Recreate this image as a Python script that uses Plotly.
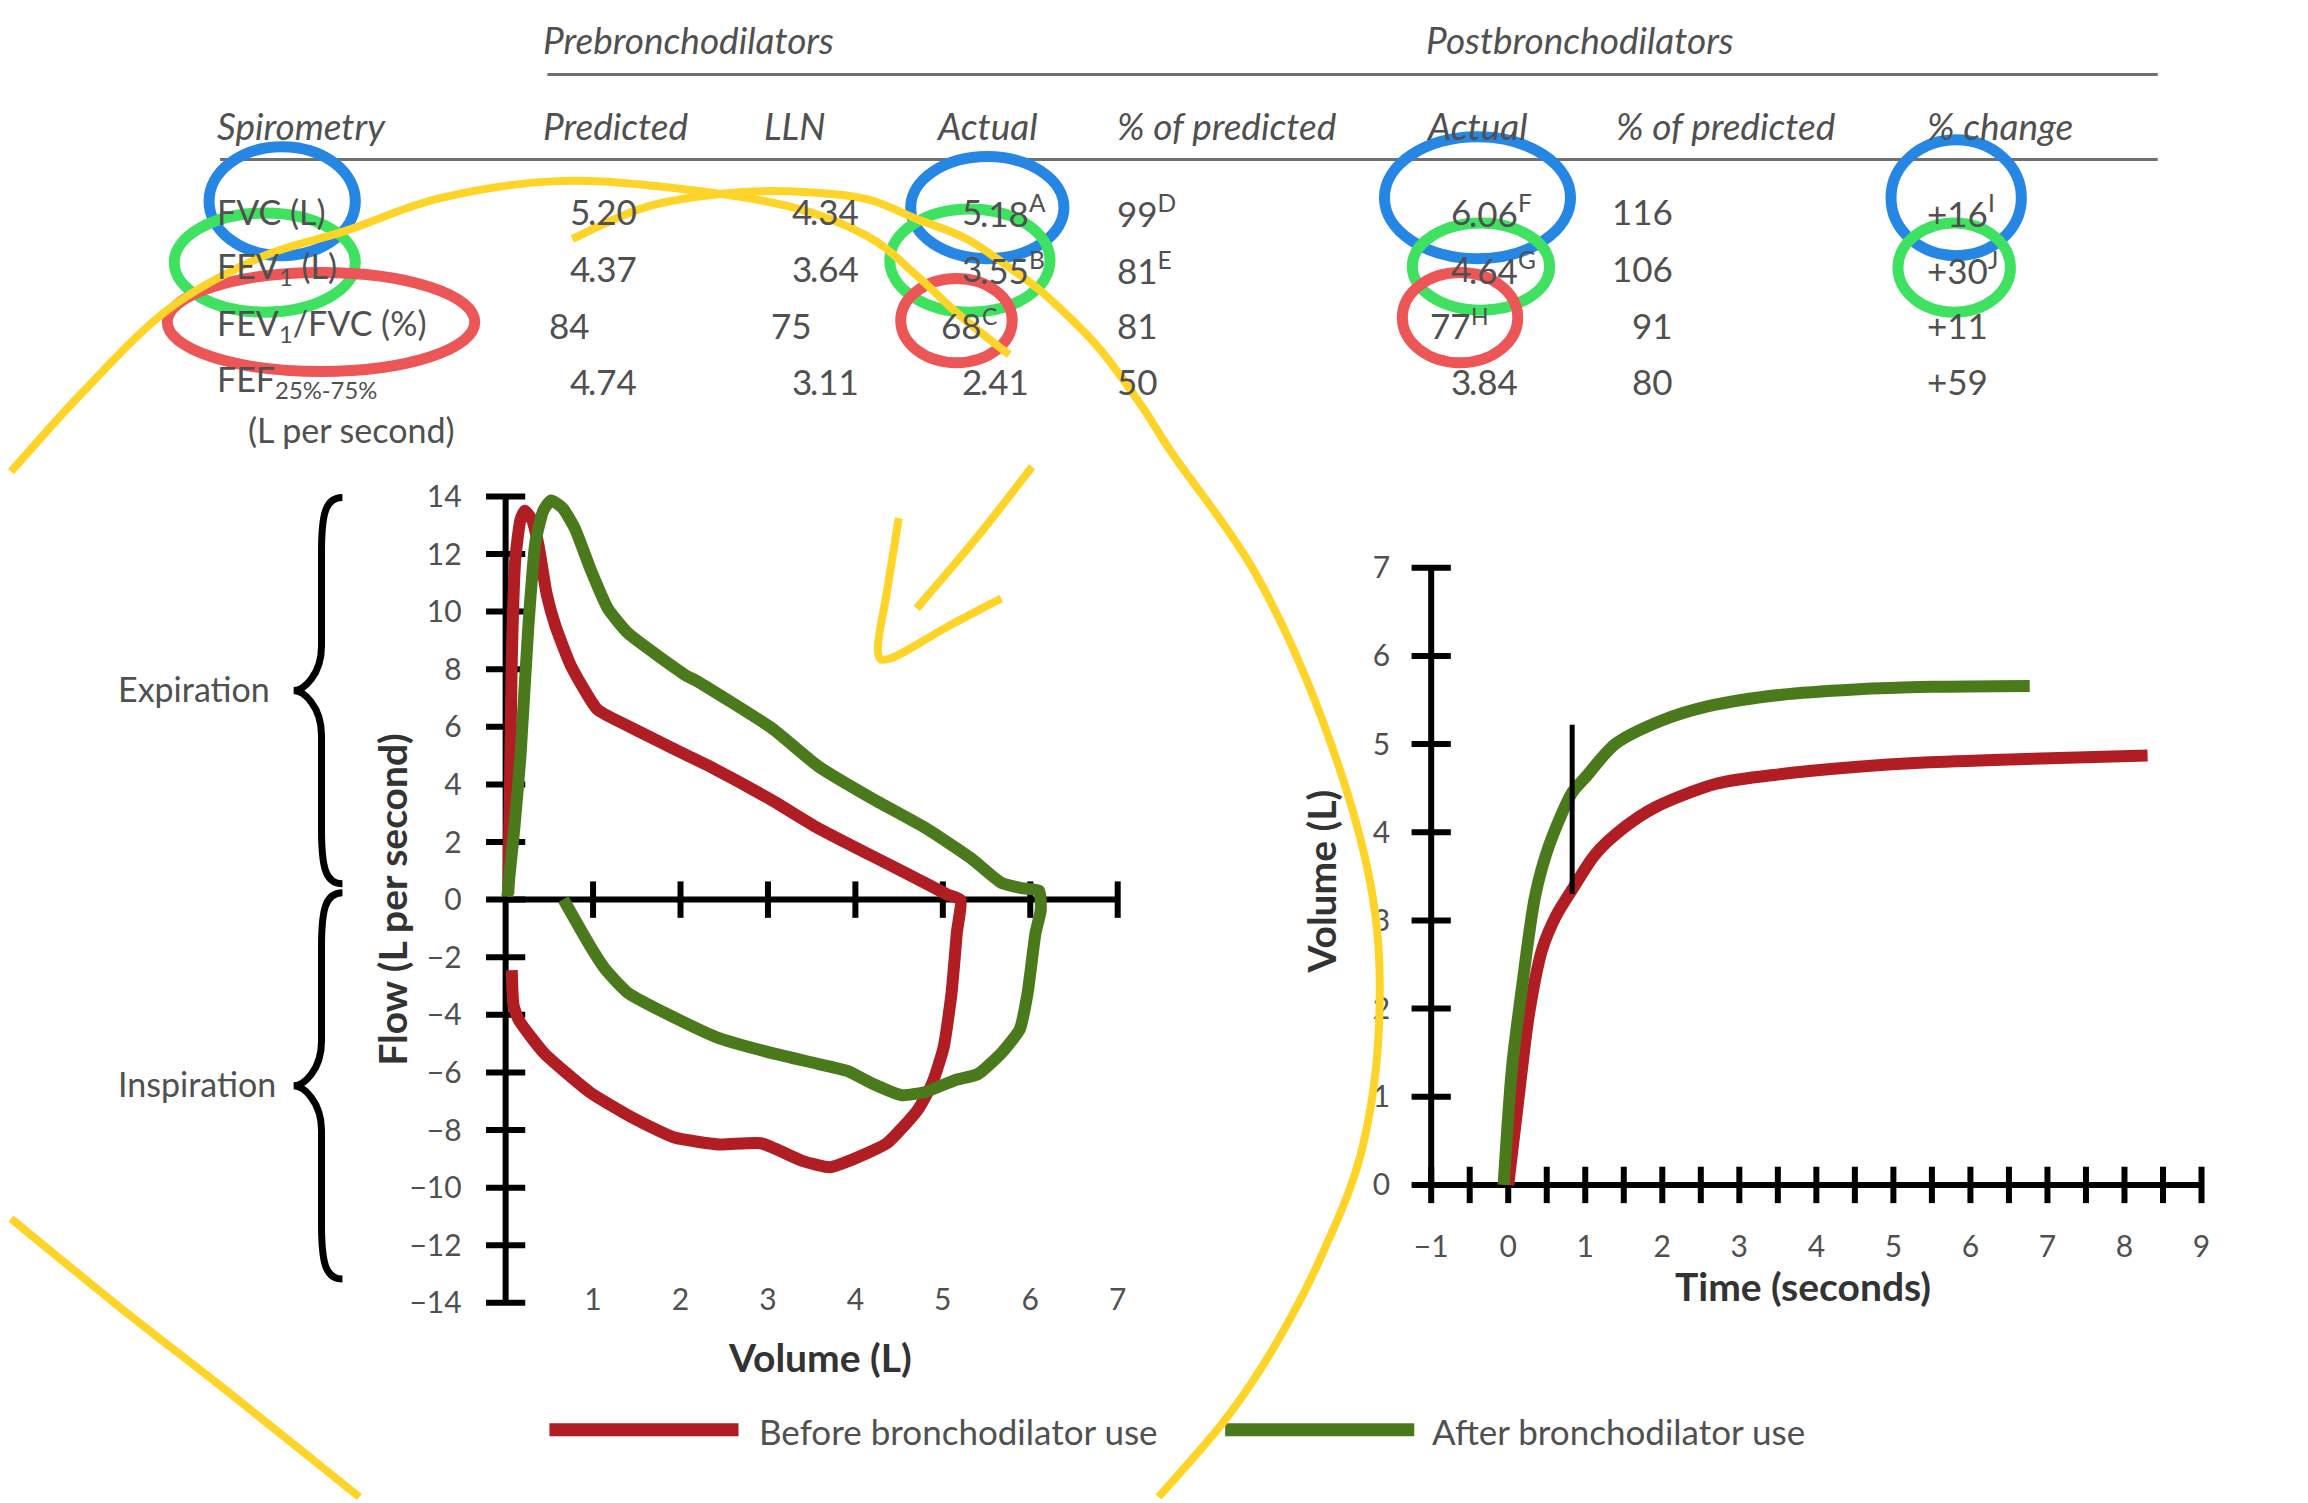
import plotly.graph_objects as go

W, H = 2308, 1503
FONT = "Lato, 'Open Sans', sans-serif"
TEXT = "#505050"
TITLE = "#333333"
RED = "#B01E24"
GREEN = "#4B7A1C"

# ---------------- data ----------------
table_groups = ["Prebronchodilators", "Postbronchodilators"]
table_headers = ["Spirometry", "Predicted", "LLN", "Actual", "% of predicted",
                 "Actual", "% of predicted", "% change"]
row_labels = ["FVC (L)", "FEV<sub>1</sub> (L)", "FEV<sub>1</sub>/FVC (%)", "FEF<sub>25%-75%</sub>"]
row_label_note = "(L per second)"
predicted = ["5.20", "4.37", "84", "4.74"]
lln = ["4.34", "3.64", "75", "3.11"]
actual_pre = ["5.18", "3.55", "68", "2.41"]
actual_pre_notes = ["A", "B", "C", ""]
pct_pred_pre = ["99", "81", "81", "50"]
pct_pred_pre_notes = ["D", "E", "", ""]
actual_post = ["6.06", "4.64", "77", "3.84"]
actual_post_notes = ["F", "G", "H", ""]
pct_pred_post = ["116", "106", "91", "80"]
pct_change = ["+16", "+30", "+11", "+59"]
pct_change_notes = ["I", "J", "", ""]

series_names = ["Before bronchodilator use", "After bronchodilator use"]
series_colors = [RED, GREEN]

# flow-volume loop (volume L, flow L/s)
fv_vol_before = [0.03, 0.05, 0.07, 0.11, 0.17, 0.22, 0.30, 0.37, 0.47, 0.57, 0.75, 1.05, 1.32,
                 1.70, 2.08, 2.35, 3.04, 3.57, 4.17, 4.70, 5.05, 5.20, 5.16, 5.10, 5.01, 4.88,
                 4.71, 4.36, 3.92, 3.71, 3.40, 2.92, 2.44, 1.92, 1.48, 0.96, 0.44, 0.15, 0.09, 0.07]
fv_flow_before = [0.2, 4.0, 8.3, 11.8, 13.2, 13.5, 13.2, 12.4, 10.6, 9.5, 8.1, 6.6, 6.15,
                  5.57, 5.0, 4.6, 3.46, 2.49, 1.55, 0.73, 0.18, 0.0, -1.16, -3.24, -5.12, -6.37,
                  -7.31, -8.46, -9.08, -9.29, -9.08, -8.46, -8.5, -8.25, -7.62, -6.68, -5.33,
                  -4.18, -3.66, -2.45]
fv_vol_after = [0.02, 0.10, 0.17, 0.26, 0.34, 0.43, 0.52, 0.65, 0.79, 0.98, 1.17, 1.40, 2.08,
                2.18, 3.04, 3.57, 4.18, 4.80, 5.32, 5.67, 5.90, 6.10, 6.12, 6.06, 5.97, 5.88,
                5.67, 5.40, 5.14, 4.80, 4.53, 4.18, 3.92, 3.58, 3.05, 2.44, 1.92, 1.40, 1.14,
                0.96, 0.66]
fv_flow_after = [0.1, 2.5, 5.0, 9.5, 12.4, 13.5, 13.86, 13.6, 12.9, 11.4, 10.1, 9.25, 7.75,
                 7.6, 5.96, 4.64, 3.53, 2.49, 1.44, 0.58, 0.4, 0.31, -0.36, -1.16, -3.24, -4.5,
                 -5.33, -6.06, -6.27, -6.68, -6.79, -6.37, -5.96, -5.71, -5.33, -4.81, -4.08,
                 -3.24, -2.42, -1.58, 0.01]
fv_xticks = [1, 2, 3, 4, 5, 6, 7]
fv_yticks = list(range(-14, 15, 2))

# volume-time curves (seconds, L)
vt_time_before = [0.0, 0.14, 0.27, 0.44, 0.62, 0.83, 1.13, 1.5, 1.9, 2.7, 3.55, 4.5, 5.4, 6.7, 8.3]
vt_vol_before = [0.0, 1.03, 1.94, 2.67, 3.05, 3.35, 3.75, 4.05, 4.28, 4.55, 4.66, 4.74, 4.79, 4.83, 4.87]
vt_time_after = [-0.06, 0.05, 0.18, 0.35, 0.53, 0.83, 1.0, 1.39, 2.0, 2.6, 3.55, 4.5, 5.5, 6.77]
vt_vol_after = [0.0, 1.34, 2.25, 3.28, 3.85, 4.45, 4.62, 5.0, 5.27, 5.43, 5.56, 5.62, 5.65, 5.66]
vt_fev1_time = 0.83
vt_fev1_span = [3.3, 5.22]
vt_xticks = list(range(-1, 10))
vt_minor_xticks = [v / 2 for v in range(-2, 19)]
vt_yticks = list(range(0, 8))

# ---------------- geometry helpers ----------------
def px(x):
    return x / W

def py(y):
    return 1 - y / H

# flow-volume plot placement (pixel anchors)
FV_X0, FV_PPU_X = 497, (1112 - 497) / 7
FV_Y0, FV_PPU_Y = 900, (900 - 493) / 14
fv_xrange = [-0.4, 7.3]
fv_yrange = [-14.4, 14.4]
fv_xdom = [px(FV_X0 + fv_xrange[0] * FV_PPU_X), px(FV_X0 + fv_xrange[1] * FV_PPU_X)]
fv_ydom = [py(FV_Y0 - fv_yrange[0] * FV_PPU_Y), py(FV_Y0 - fv_yrange[1] * FV_PPU_Y)]

# volume-time plot placement
VT_XM1, VT_PPU_X = 1427, 77.4
VT_Y0, VT_PPU_Y = 1188, 89.0
vt_xrange = [-1.08, 9.15]
vt_yrange = [-0.12, 7.15]
vt_xdom = [px(VT_XM1 + (vt_xrange[0] + 1) * VT_PPU_X), px(VT_XM1 + (vt_xrange[1] + 1) * VT_PPU_X)]
vt_ydom = [py(VT_Y0 - vt_yrange[0] * VT_PPU_Y), py(VT_Y0 - vt_yrange[1] * VT_PPU_Y)]

fig = go.Figure()

# ---------------- flow-volume plot ----------------
AX = dict(color="black", width=6)
fig.add_trace(go.Scatter(x=[0, 0], y=[min(fv_yticks), max(fv_yticks)], mode="lines",
                         line=AX, xaxis="x", yaxis="y", hoverinfo="skip"))
fig.add_trace(go.Scatter(x=[0, max(fv_xticks)], y=[0, 0], mode="lines",
                         line=AX, xaxis="x", yaxis="y", hoverinfo="skip"))
fig.add_trace(go.Scatter(x=[0] * len(fv_yticks), y=fv_yticks, mode="markers", cliponaxis=False,
                         marker=dict(symbol="line-ew", size=28, line=dict(color="black", width=6)),
                         xaxis="x", yaxis="y", hoverinfo="skip"))
fig.add_trace(go.Scatter(x=fv_xticks, y=[0] * len(fv_xticks), mode="markers", cliponaxis=False,
                         marker=dict(symbol="line-ns", size=26, line=dict(color="black", width=6)),
                         xaxis="x", yaxis="y", hoverinfo="skip"))
fig.add_trace(go.Scatter(x=fv_xticks, y=[min(fv_yticks)] * len(fv_xticks), mode="text",
                         text=[str(v) for v in fv_xticks], textposition="middle center",
                         textfont=dict(family=FONT, size=30, color=TEXT), cliponaxis=False,
                         xaxis="x", yaxis="y", hoverinfo="skip"))
for vx, vy, col in [(fv_vol_before, fv_flow_before, RED), (fv_vol_after, fv_flow_after, GREEN)]:
    fig.add_trace(go.Scatter(x=vx, y=vy, mode="lines",
                             line=dict(color=col, width=12, shape="spline", smoothing=0.5),
                             xaxis="x", yaxis="y", hoverinfo="skip"))

# ---------------- volume-time plot ----------------
fig.add_trace(go.Scatter(x=[-1, -1], y=[0, max(vt_yticks)], mode="lines", line=AX,
                         xaxis="x2", yaxis="y2", hoverinfo="skip"))
fig.add_trace(go.Scatter(x=[-1, max(vt_xticks)], y=[0, 0], mode="lines", line=AX,
                         xaxis="x2", yaxis="y2", hoverinfo="skip"))
fig.add_trace(go.Scatter(x=[-1] * len(vt_yticks), y=vt_yticks, mode="markers", cliponaxis=False,
                         marker=dict(symbol="line-ew", size=28, line=dict(color="black", width=6)),
                         xaxis="x2", yaxis="y2", hoverinfo="skip"))
fig.add_trace(go.Scatter(x=vt_minor_xticks, y=[0] * len(vt_minor_xticks), mode="markers",
                         cliponaxis=False,
                         marker=dict(symbol="line-ns", size=26, line=dict(color="black", width=6)),
                         xaxis="x2", yaxis="y2", hoverinfo="skip"))
for tx, ty, col in [(vt_time_before, vt_vol_before, RED), (vt_time_after, vt_vol_after, GREEN)]:
    fig.add_trace(go.Scatter(x=tx, y=ty, mode="lines",
                             line=dict(color=col, width=12, shape="spline", smoothing=0.8),
                             xaxis="x2", yaxis="y2", hoverinfo="skip"))
fig.add_trace(go.Scatter(x=[vt_fev1_time, vt_fev1_time], y=vt_fev1_span, mode="lines",
                         line=dict(color="black", width=5), xaxis="x2", yaxis="y2",
                         hoverinfo="skip"))

tickfont = dict(family=FONT, size=30, color=TEXT)
noline = dict(showgrid=False, zeroline=False, showline=False)
fig.update_layout(
    width=W, height=H, autosize=False,
    margin=dict(l=0, r=0, t=0, b=0),
    paper_bgcolor="white", plot_bgcolor="rgba(0,0,0,0)",
    showlegend=False,
    font=dict(family=FONT, color=TEXT),
    xaxis=dict(domain=fv_xdom, range=fv_xrange, showticklabels=False, ticks="", anchor="y", **noline),
    yaxis=dict(domain=fv_ydom, range=fv_yrange, tickvals=fv_yticks, ticks="outside", ticklen=2,
               tickcolor="rgba(0,0,0,0)", tickfont=tickfont, anchor="x", **noline),
    xaxis2=dict(domain=vt_xdom, range=vt_xrange, tickvals=vt_xticks, ticks="outside", ticklen=24,
                tickcolor="rgba(0,0,0,0)", tickfont=tickfont, anchor="y2", **noline),
    yaxis2=dict(domain=vt_ydom, range=vt_yrange, tickvals=vt_yticks, ticks="outside", ticklen=28,
                tickcolor="rgba(0,0,0,0)", tickfont=tickfont, anchor="x2", **noline),
)

# ---------------- text helpers ----------------
def txt(x, y, s, size=35, color=TEXT, xanchor="left", angle=0):
    fig.add_annotation(x=px(x), y=py(y), xref="paper", yref="paper", text=s, showarrow=False,
                       xanchor=xanchor, yanchor="middle", borderpad=0, borderwidth=0,
                       textangle=angle, font=dict(family=FONT, size=size, color=color))

def sup(note):
    return f"<sup>{note}</sup>" if note else ""

def value_cell(x_int, y, value, note=""):
    """Decimal-aligned value: integer part ends at x_int."""
    if "." in value:
        ip, rest = value.split(".", 1)
        txt(x_int + 1, y, ip, xanchor="right")
        txt(x_int - 1, y, "." + rest + sup(note), xanchor="left")
    else:
        txt(x_int + 1, y, value, xanchor="right")
        if note:
            txt(x_int + 1, y - 9, note, size=23, xanchor="left")

# ---------------- table ----------------
ROW_Y = [205, 262, 320, 377]
HEAD_Y = 119
GROUP_Y = 32
HEAD = 37
txt(535, GROUP_Y, f"<i>{table_groups[0]}</i>", size=HEAD)
txt(1422, GROUP_Y, f"<i>{table_groups[1]}</i>", size=HEAD)
header_x = [207, 535, 757, 929, 1111, 1422, 1613, 1925]
for hx, h in zip(header_x, table_headers):
    txt(hx, HEAD_Y, f"<i>{h}</i>", size=HEAD)
fig.add_shape(type="line", xref="paper", yref="paper", x0=px(539), x1=px(2157), y0=py(67), y1=py(67),
              line=dict(color="#707070", width=3))
fig.add_shape(type="line", xref="paper", yref="paper", x0=px(210), x1=px(2157), y0=py(153), y1=py(153),
              line=dict(color="#707070", width=3))

for i, y in enumerate(ROW_Y):
    txt(207, y, row_labels[i], size=34)
    value_cell(581, y, predicted[i])
    value_cell(804, y, lln[i])
    value_cell(975, y, actual_pre[i], actual_pre_notes[i])
    txt(1111, y, pct_pred_pre[i] + sup(pct_pred_pre_notes[i]))
    value_cell(1466, y, actual_post[i], actual_post_notes[i])
    txt(1670, y, pct_pred_post[i], xanchor="right")
    txt(1925, y, pct_change[i] + sup(pct_change_notes[i]))
txt(238, 425, row_label_note, size=34)

# ---------------- axis titles & side labels ----------------
txt(382, 900, "<b>Flow (L per second)</b>", size=39, color=TITLE, xanchor="center", angle=-90)
txt(813, 1362, "<b>Volume (L)</b>", size=39, color=TITLE, xanchor="center")
txt(1316, 882, "<b>Volume (L)</b>", size=39, color=TITLE, xanchor="center", angle=-90)
txt(1801, 1290, "<b>Time (seconds)</b>", size=39, color=TITLE, xanchor="center")
txt(108, 687, "Expiration", size=34)
txt(108, 1086, "Inspiration", size=34)

def brace(x_end, x_spine, x_tip, top, mid, bot, d1=55, d2=45):
    P = lambda x, y: f"{px(x)},{py(y)}"
    d = (f"M {P(x_end, top)} "
         f"C {P(x_spine + 4, top)} {P(x_spine, top + d1 * 0.3)} {P(x_spine, top + d1)} "
         f"L {P(x_spine, mid - d2)} "
         f"C {P(x_spine, mid - d2 * 0.35)} {P(x_tip + (x_spine - x_tip) * 0.35, mid)} {P(x_tip, mid)} "
         f"C {P(x_tip + (x_spine - x_tip) * 0.35, mid)} {P(x_spine, mid + d2 * 0.35)} {P(x_spine, mid + d2)} "
         f"L {P(x_spine, bot - d1)} "
         f"C {P(x_spine, bot - d1 * 0.3)} {P(x_spine + 4, bot)} {P(x_end, bot)}")
    fig.add_shape(type="path", xref="paper", yref="paper", path=d,
                  line=dict(color="black", width=7))

brace(333, 312, 284, 494, 689, 884)
brace(333, 312, 284, 893, 1088, 1283)

# ---------------- legend ----------------
legend_items = [(541, 731, 752), (1220, 1410, 1428)]
for (x0, x1, tx), name, col in zip(legend_items, series_names, series_colors):
    fig.add_shape(type="line", xref="paper", yref="paper", x0=px(x0), x1=px(x1),
                  y0=py(1435), y1=py(1435), line=dict(color=col, width=13))
    txt(tx, 1436, name, size=35)

# ---------------- hand-drawn highlight marks ----------------
def smooth_path(pts):
    P = [(px(x), py(y)) for x, y in pts]
    d = f"M {P[0][0]},{P[0][1]}"
    for i in range(len(P) - 1):
        p0 = P[i - 1] if i > 0 else P[i]
        p1, p2 = P[i], P[i + 1]
        p3 = P[i + 2] if i + 2 < len(P) else P[i + 1]
        c1 = (p1[0] + (p2[0] - p0[0]) / 6, p1[1] + (p2[1] - p0[1]) / 6)
        c2 = (p2[0] - (p3[0] - p1[0]) / 6, p2[1] - (p3[1] - p1[1]) / 6)
        d += f" C {c1[0]},{c1[1]} {c2[0]},{c2[1]} {p2[0]},{p2[1]}"
    return d

BLUE_M = "rgb(38,134,228)"
GREEN_M = "rgb(62,226,96)"
RED_M = "rgb(236,86,86)"
YELLOW_M = "rgb(255,212,40)"

ellipses = [
    (BLUE_M, (199, 346, 140, 250)), (BLUE_M, (904, 1058, 150, 253)),
    (BLUE_M, (1380, 1567, 130, 253)), (BLUE_M, (1889, 2020, 133, 250)),
    (GREEN_M, (164, 346, 207, 307)), (GREEN_M, (883, 1044, 203, 307)),
    (GREEN_M, (1408, 1546, 217, 305)), (GREEN_M, (1896, 2009, 217, 307)),
    (RED_M, (157, 466, 267, 367)), (RED_M, (894, 1006, 273, 358)),
    (RED_M, (1398, 1514, 267, 358)),
]
for col, (x0, x1, y0, y1) in ellipses:
    fig.add_shape(type="circle", xref="paper", yref="paper", x0=px(x0), x1=px(x1),
                  y0=py(y1), y1=py(y0), line=dict(color=col, width=11))

yellow_strokes = [
    [(0, 468), (70, 390), (157, 305), (250, 252), (336, 225), (431, 192), (543, 175),
     (650, 180), (781, 200), (860, 230), (910, 270), (953, 310), (1003, 350)],
    [(564, 233), (641, 200), (732, 186), (800, 186), (860, 193), (910, 213), (960, 233),
     (1010, 267), (1043, 293), (1093, 343), (1137, 403), (1167, 450), (1250, 570),
     (1317, 717), (1365, 879), (1375, 1015), (1358, 1150), (1317, 1259), (1270, 1350),
     (1220, 1425), (1153, 1503)],
    [(0, 1222), (110, 1312), (222, 1400), (350, 1503)],
    [(1026, 463), (970, 535), (910, 606)],
    [(892, 515), (880, 590), (871, 648), (885, 656), (940, 625), (995, 596)],
]
for pts in yellow_strokes:
    fig.add_shape(type="path", xref="paper", yref="paper", path=smooth_path(pts),
                  line=dict(color=YELLOW_M, width=8))

fig.write_html("out.html", config={"displayModeBar": False},
               post_script="document.body.style.margin='0';document.body.style.overflow='hidden';")
